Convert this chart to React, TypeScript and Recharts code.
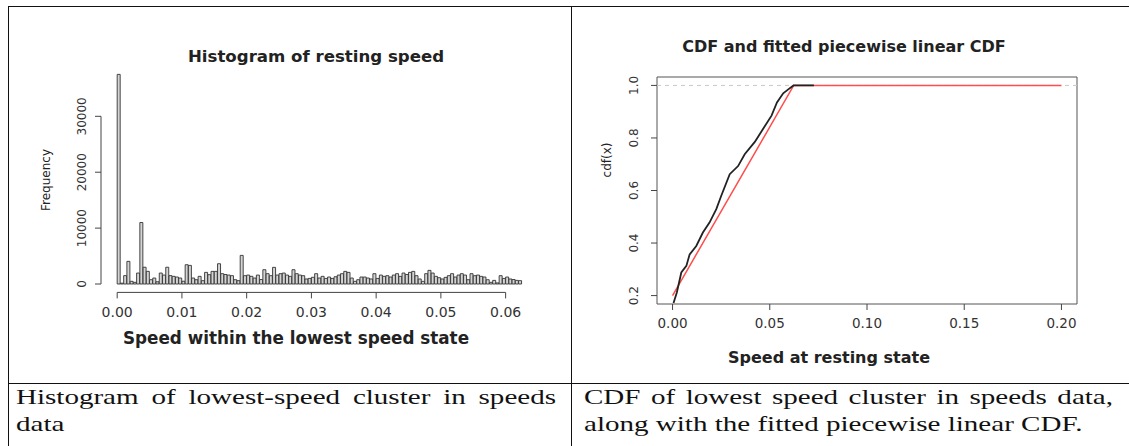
import React from "react";
import {
  ComposedChart,
  Bar,
  Line,
  XAxis,
  YAxis,
  ReferenceLine,
  ReferenceArea,
} from "recharts";

// ---- histogram of resting speed (bins of 0.0005) ----
const binWidth = 0.0005;
const speedCounts = [
  37500, 150, 1500, 4050, 480, 300, 1960, 11000, 3000, 2260,
  770, 1070, 400, 1960, 1600, 3000, 1500, 1370, 1250, 1070,
  500, 3450, 3330, 1070, 770, 1370, 600, 2080, 1670, 2260,
  2260, 3630, 1850, 1700, 1600, 1490, 770, 600, 5120, 1490,
  1600, 1370, 1070, 1600, 800, 2560, 1850, 1490, 2980, 1600,
  1850, 1960, 1600, 1370, 2560, 1850, 1600, 1490, 900, 1000,
  1200, 1850, 1070, 1370, 1000, 1250, 1000, 1300, 1600, 1850,
  2260, 2080, 1070, 480, 770, 1250, 1250, 1070, 900, 1850,
  1000, 1600, 1370, 1490, 1250, 1600, 1850, 1370, 1960, 1700,
  2080, 2260, 1490, 900, 480, 1850, 2440, 1960, 1370, 1130,
  900, 1190, 1490, 1850, 1250, 1600, 1850, 1600, 770, 1850,
  1490, 1600, 1370, 1250, 770, 300, 650, 200, 1490, 1000,
  1250, 900, 800, 650, 600,
];
const histXTicks = [0, 0.01, 0.02, 0.03, 0.04, 0.05, 0.06];
const histYTicks = [0, 10000, 20000, 30000];
const histXDomain = [-0.0025, 0.065];
const histYDomain = [-1500, 39000];

// ---- empirical CDF and fitted piecewise linear CDF ----
const ecdfSpeed = [
  0.0005, 0.0022, 0.0045, 0.0071, 0.0088, 0.0122, 0.0156, 0.019, 0.0225, 0.025,
  0.0294, 0.0337, 0.0371, 0.0423, 0.0466, 0.0509, 0.0537, 0.0569, 0.0595, 0.0622,
  0.0727,
];
const ecdfProb = [
  0.172, 0.212, 0.288, 0.313, 0.357, 0.389, 0.44, 0.478, 0.529, 0.579,
  0.662, 0.693, 0.738, 0.785, 0.835, 0.885, 0.935, 0.97, 0.985, 1.0,
  1.0,
];
const fitSpeed = [0, 0.0623, 0.2];
const fitProb = [0.2, 1.0, 1.0];
const cdfXTicks = [0, 0.05, 0.1, 0.15, 0.2];
const cdfYTicks = [0.2, 0.4, 0.6, 0.8, 1.0];
const cdfXDomain = [-0.008, 0.208];
const cdfYDomain = [0.168, 1.032];

const histData = speedCounts.map((count, i) => ({ speed: (i + 0.5) * binWidth, count }));
const ecdfData = ecdfSpeed.map((x, i) => ({ x, p: ecdfProb[i] }));
const fitData = fitSpeed.map((x, i) => ({ x, p: fitProb[i] }));

const SANS = "DejaVu Sans";
const AXIS = "#444";

function RotTick(props: any) {
  const { x, y, payload, shift, digits } = props;
  const bx = x - shift;
  const v = digits != null ? Number(payload.value).toFixed(digits) : String(payload.value);
  return (
    <text
      x={bx}
      y={y}
      transform={`rotate(-90, ${bx}, ${y})`}
      textAnchor="middle"
      fontSize={12}
      fontFamily={SANS}
      fill="#333"
    >
      {v}
    </text>
  );
}

function Txt({ x, y, size, bold, rotate, children }: any) {
  return (
    <div
      style={{
        position: "absolute",
        left: x,
        top: y,
        transform: `translate(-50%, -50%)${rotate ? " rotate(-90deg)" : ""}`,
        fontFamily: SANS,
        fontSize: size,
        fontWeight: bold ? "bold" : "normal",
        lineHeight: 1,
        whiteSpace: "nowrap",
        color: "#222",
      }}
    >
      {children}
    </div>
  );
}

function Caption({ x, width, lines }: { x: number; width: number; lines: string[] }) {
  const stretch = 1.32;
  return (
    <div
      style={{
        position: "absolute",
        left: x,
        top: 383,
        width: width / stretch,
        transform: `scaleX(${stretch})`,
        transformOrigin: "0 0",
        fontFamily: "Liberation Serif",
        fontSize: 22,
        lineHeight: "27px",
        color: "#111",
      }}
    >
      <div style={{ textAlign: "justify", textAlignLast: "justify" }}>{lines[0]}</div>
      <div>{lines[1]}</div>
    </div>
  );
}

function Rule({ x, y, w, h }: any) {
  return <div style={{ position: "absolute", left: x, top: y, width: w, height: h, background: "#111" }} />;
}

export default function App() {
  return (
    <div
      style={{
        position: "absolute",
        left: 0,
        top: 0,
        width: 1129,
        height: 446,
        background: "#fff",
        overflow: "hidden",
      }}
    >
      {/* left: histogram */}
      <div style={{ position: "absolute", left: 0, top: 0 }}>
        <ComposedChart
          width={560}
          height={380}
          data={histData}
          margin={{ top: 66, right: 22, bottom: 47.6, left: 41 }}
          barCategoryGap={0}
          barGap={0}
        >
          <XAxis
            dataKey="speed"
            type="number"
            domain={histXDomain}
            allowDataOverflow
            ticks={histXTicks}
            interval={0}
            tickFormatter={(v: number) => v.toFixed(2)}
            axisLine={false}
            tickLine={{ stroke: AXIS }}
            tickSize={6}
            tickMargin={9}
            height={40}
            tick={{ fontSize: 14, fill: "#333", fontFamily: SANS }}
          />
          <YAxis
            type="number"
            domain={histYDomain}
            allowDataOverflow
            ticks={histYTicks}
            interval={0}
            axisLine={false}
            tickLine={{ stroke: AXIS }}
            tickSize={6}
            width={60}
            tick={(p: any) => <RotTick {...p} shift={6.6} />}
          />
          <Bar
            dataKey="count"
            fill="#d4d4d4"
            stroke="#333"
            strokeWidth={0.9}
            isAnimationActive={false}
          />
          <ReferenceLine
            segment={[
              { x: histXDomain[0], y: histYTicks[0] },
              { x: histXDomain[0], y: histYTicks[histYTicks.length - 1] },
            ]}
            stroke={AXIS}
            ifOverflow="visible"
          />
          <ReferenceLine
            segment={[
              { x: histXTicks[0], y: histYDomain[0] },
              { x: histXTicks[histXTicks.length - 1], y: histYDomain[0] },
            ]}
            stroke={AXIS}
            ifOverflow="visible"
          />
        </ComposedChart>
      </div>
      <Txt x={316} y={57} size={16.6} bold>Histogram of resting speed</Txt>
      <Txt x={296} y={338} size={16.8} bold>Speed within the lowest speed state</Txt>
      <Txt x={46} y={180} size={12} rotate>Frequency</Txt>

      {/* right: CDF */}
      <div style={{ position: "absolute", left: 560, top: 0 }}>
        <ComposedChart width={569} height={380} margin={{ top: 77, right: 52, bottom: 36, left: 47 }}>
          <XAxis
            dataKey="x"
            type="number"
            domain={cdfXDomain}
            allowDataOverflow
            ticks={cdfXTicks}
            interval={0}
            tickFormatter={(v: number) => v.toFixed(2)}
            axisLine={false}
            tickLine={{ stroke: AXIS }}
            tickSize={6}
            tickMargin={8}
            height={40}
            tick={{ fontSize: 13.5, fill: "#333", fontFamily: SANS }}
          />
          <YAxis
            type="number"
            domain={cdfYDomain}
            allowDataOverflow
            ticks={cdfYTicks}
            interval={0}
            axisLine={false}
            tickLine={{ stroke: AXIS }}
            tickSize={6}
            width={50}
            tick={(p: any) => <RotTick {...p} shift={10.6} digits={1} />}
          />
          <ReferenceArea
            x1={cdfXDomain[0]}
            x2={cdfXDomain[1]}
            y1={cdfYDomain[0]}
            y2={cdfYDomain[1]}
            fill="none"
            fillOpacity={0}
            stroke="#555"
            strokeWidth={1}
            ifOverflow="visible"
          />
          <ReferenceLine y={1} stroke="#c8c8c8" strokeDasharray="4 4" />
          <Line
            data={fitData}
            dataKey="p"
            type="linear"
            stroke="#ff4d4d"
            strokeWidth={1.5}
            dot={false}
            isAnimationActive={false}
          />
          <Line
            data={ecdfData}
            dataKey="p"
            type="linear"
            stroke="#222"
            strokeWidth={1.8}
            dot={false}
            isAnimationActive={false}
          />
        </ComposedChart>
      </div>
      <Txt x={844} y={47} size={16} bold>CDF and fitted piecewise linear CDF</Txt>
      <Txt x={829} y={358} size={16} bold>Speed at resting state</Txt>
      <Txt x={607} y={160} size={12} rotate>cdf(x)</Txt>

      {/* table rules */}
      <Rule x={8} y={6} w={1121} h={1} />
      <Rule x={8} y={6} w={1} h={440} />
      <Rule x={571} y={6} w={1} h={440} />
      <Rule x={8} y={383} w={1121} h={1} />

      <Caption x={16} width={540} lines={["Histogram of lowest-speed cluster in speeds", "data"]} />
      <Caption
        x={584}
        width={529}
        lines={["CDF of lowest speed cluster in speeds data,", "along with the fitted piecewise linear CDF."]}
      />
    </div>
  );
}
